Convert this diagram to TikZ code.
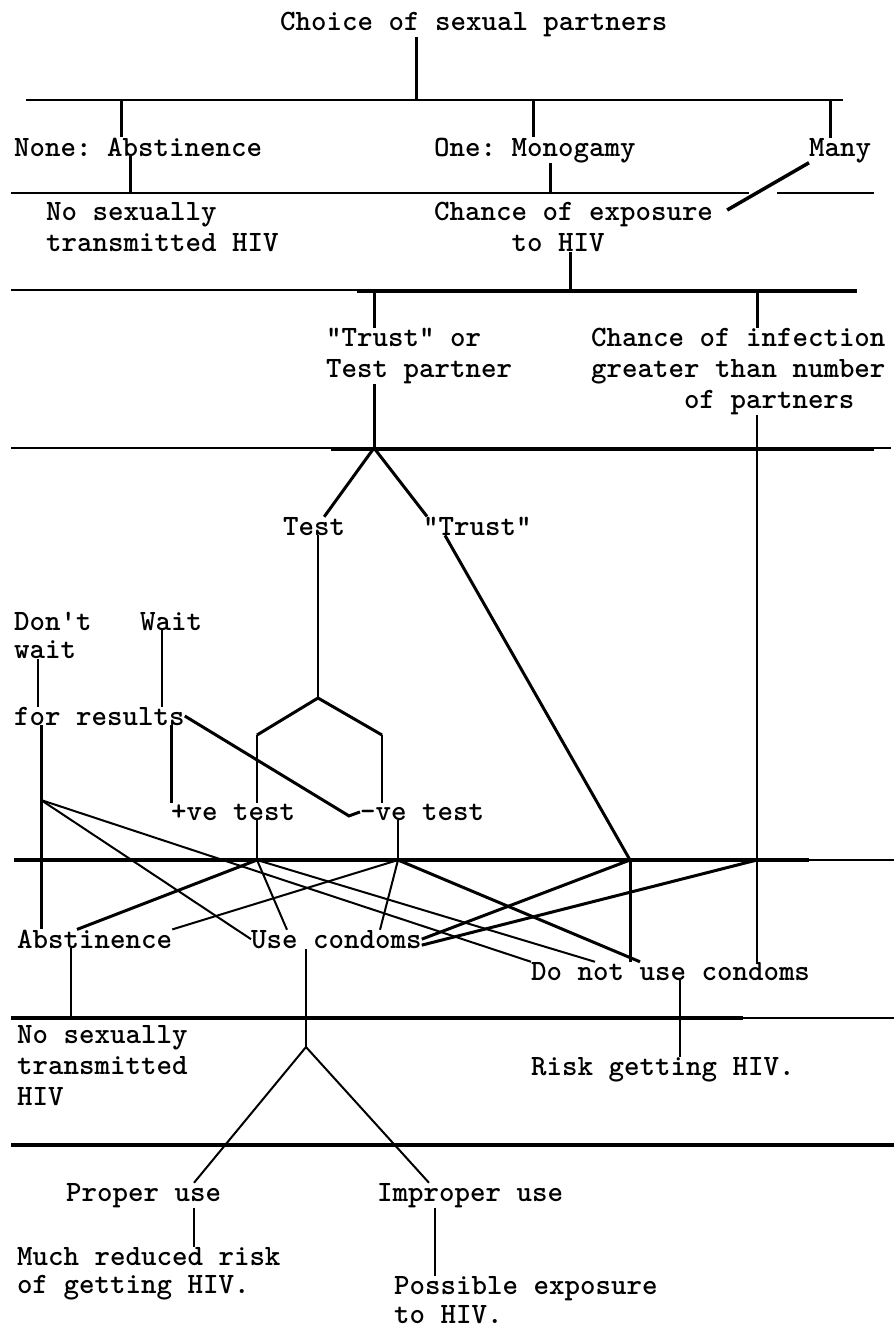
\documentclass[tikz,border=0pt]{standalone}
\usepackage{tikz}
\usetikzlibrary{calc}
\usetikzlibrary{positioning}

\begin{document}
\begin{tikzpicture}[x=1pt,y=-1pt,
    txt/.style={inner sep=0pt,font=\ttfamily\bfseries\frenchspacing\fontsize{29.5}{31}\selectfont},
    rulethin/.style={line width=2pt},
    ruleheavy/.style={line width=4.5pt},
    thinlink/.style={line width=1.3pt},
    midlink/.style={line width=2pt},
    heavylink/.style={line width=3pt}]

  \useasboundingbox (0,0) rectangle (894,1331);

  \node [txt,anchor=base west] (choice) at (280,30) {Choice of sexual partners};
  \node [txt,anchor=base west] (none) at (14,156) {None: Abstinence};
  \node [txt,anchor=base west] (one) at (434,156) {One: Monogamy};
  \node [txt,anchor=base west] (many) at (809,156) {Many};
  \node [txt,anchor=north west,align=left] (nosexa) at (46,202) {No sexually\\transmitted HIV};
  \node [txt,anchor=north west,align=left] (expo) at (434,202) {Chance of exposure\\\phantom{xxxxx}to HIV};
  \node [txt,anchor=north west,align=left] (trustor) at (326,328) {\textquotedbl Trust\textquotedbl{} or\\Test partner};
  \node [txt,anchor=north west,align=left] (infect) at (591,328) {Chance of infection\\greater than number\\\phantom{xxxxxx}of partners};
  \node [txt,anchor=base west] (test) at (283,535) {Test};
  \node [txt,anchor=base west] (trust) at (423,535) {\textquotedbl Trust\textquotedbl};
  \node [txt,anchor=north west,align=left] (dont) at (14,612) {Don\textquotesingle t\\[-3pt]wait};
  \node [txt,anchor=base west] (wait) at (140,630) {Wait};
  \node [txt,anchor=base west] (results) at (14,725) {for results};
  \node [txt,anchor=base west] (pos) at (171,820) {+ve test};
  \node [txt,anchor=base west] (neg) at (360,820) {-ve test};
  \node [txt,anchor=base west] (abst) at (17,948) {Abstinence};
  \node [txt,anchor=base west] (usec) at (251,948) {Use condoms};
  \node [txt,anchor=base west] (nouse) at (531,980) {Do not use condoms};
  \node [txt,anchor=north west,align=left] (nosexb) at (17,1025) {No sexually\\transmitted\\HIV};
  \node [txt,anchor=base west] (risk) at (531,1075) {Risk getting HIV.};
  \node [txt,anchor=base west] (proper) at (66,1201) {Proper use};
  \node [txt,anchor=base west] (improper) at (377,1201) {Improper use};
  \node [txt,anchor=north west,align=left] (reduced) at (17,1247) {Much reduced risk\\[-3pt]of getting HIV.};
  \node [txt,anchor=north west,align=left] (possible) at (394,1276) {Possible exposure\\[-2pt]to HIV.};

  \coordinate (j1) at (416,100);
  \coordinate (j1a) at (121,100);
  \coordinate (j1b) at (533,100);
  \coordinate (j1c) at (830,100);
  \coordinate (j2a) at (130,193);
  \coordinate (j2b) at (550,193);
  \coordinate (j3) at (570,290);
  \coordinate (j3a) at (374,290);
  \coordinate (j3b) at (757,290);
  \coordinate (j4) at (374,448);
  \coordinate (fork) at (318,698);
  \coordinate (forkl) at (257,735);
  \coordinate (forkr) at (382,735);
  \coordinate (dw) at (41,800);
  \coordinate (j5p) at (257,860);
  \coordinate (j5n) at (398,860);
  \coordinate (j5t) at (630,860);
  \coordinate (j5c) at (757,860);
  \coordinate (j6) at (71,1018);
  \coordinate (forkb) at (306,1047);

  \draw [rulethin] (26,100) -- (843,100);
  \draw [rulethin] (11,193) -- (749,193) (777,193) -- (874,193);
  \draw [rulethin] (11,290) -- (857,290);
  \draw [ruleheavy] (357,291) -- (857,291);
  \draw [rulethin] (11,448) -- (891,448);
  \draw [ruleheavy] (331,449) -- (874,449);
  \draw [rulethin] (14,860) -- (894,860);
  \draw [ruleheavy] (14,860) -- (809,860);
  \draw [rulethin] (11,1018) -- (894,1018);
  \draw [ruleheavy] (11,1018) -- (743,1018);
  \draw [ruleheavy] (11,1145) -- (894,1145);

  \path [draw,heavylink]
    (choice.south -| j1) edge (j1)
    (j1a) edge (j1a |- none.north)
    (j1b) edge (j1b |- one.north)
    (j1c) edge (j1c |- many.north)
    (j2a |- none.south) edge (j2a)
    (j2b |- one.south) edge (j2b)
    (j3 |- expo.south) edge (j3)
    (j3a) edge (j3a |- trustor.north)
    (j3b) edge (j3b |- infect.north)
    (j4 |- trustor.south) edge (j4)
    (j4) edge ([xshift=10pt]test.north)
    (j4) edge ([xshift=4pt]trust.north west)
    ([xshift=22pt]trust.south west) edge (j5t)
    (j5t) edge (j5t |- nouse.north)
    (dw |- results.south) edge (dw |- abst.north)
    (pos.north west |- results.south) edge (pos.north west)
    (forkl) edge (fork)
    (fork) edge (forkr)
    (j5p) edge ([xshift=60pt]abst.north west)
    (j5n) edge ([xshift=109pt]nouse.north west)
    (j5t) edge (usec.east)
    (j5c) edge ([yshift=-6pt]usec.east);

  \draw [line width=3.5pt] (many.south west) -- ([xshift=14pt,yshift=-8pt]expo.north east);
  \draw [heavylink] (results.east) -- ([xshift=-11pt,yshift=-4pt]neg.west) -- (neg.west);

  \path [draw,midlink]
    (dw) edge (usec.west)
    (dw) edge (nouse.north west)
    (j5p) edge ([xshift=36pt]usec.north west)
    (j5p) edge ([xshift=64pt]nouse.north west)
    (j5n) edge (abst.north east)
    (j5n) edge ([xshift=129pt]usec.north west)
    (forkb) edge ([xshift=128pt]proper.north west)
    (forkb) edge ([xshift=52pt]improper.north west);

  \path [draw,thinlink]
    (j5c |- infect.south) edge (j5c |- nouse.north)
    (fork |- test.south) edge (fork)
    (forkl) edge (forkl |- pos.north)
    (forkr) edge (forkr |- neg.north)
    ([xshift=24pt]dont.south west) edge ([xshift=24pt]results.north west)
    ([xshift=22pt]wait.south west) edge ([xshift=148pt]results.north west)
    (j5p |- pos.south) edge (j5p)
    (j5n |- neg.south) edge (j5n)
    (j6 |- abst.south) edge (j6)
    (forkb |- usec.south) edge (forkb)
    ([xshift=149pt]nouse.south west) edge ([xshift=149pt]risk.north west)
    ([xshift=128pt]proper.south west) edge ([xshift=177pt]reduced.north west)
    ([xshift=58pt]improper.south west) edge ([xshift=41pt]possible.north west);

\end{tikzpicture}
\end{document}
